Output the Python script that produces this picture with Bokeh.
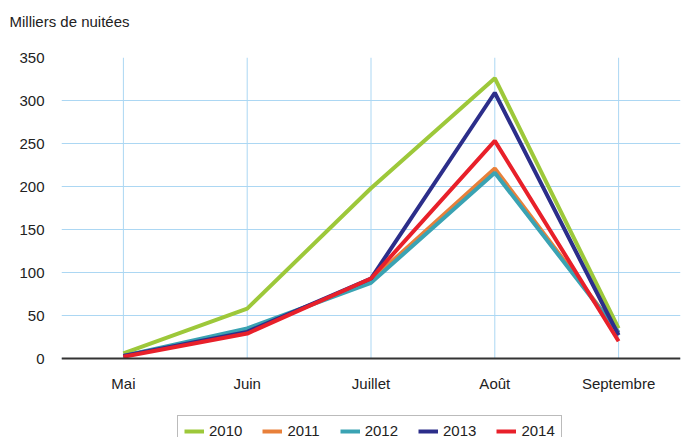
from bokeh.plotting import figure
from bokeh.models import FactorRange, Range1d, FixedTicker, Legend, LegendItem, Span
from bokeh.core.properties import value
from bokeh.embed import file_html
from bokeh.resources import INLINE

months = ["Mai", "Juin", "Juillet", "Août", "Septembre"]
y2010 = [6, 58, 198, 326, 35]
y2011 = [3, 32, 91, 221, 30]
y2012 = [3, 35, 88, 216, 30]
y2013 = [3, 31, 93, 309, 27]
y2014 = [2, 29, 93, 253, 20]
years = ["2010", "2011", "2012", "2013", "2014"]
colors = ["#9dc83a", "#e8803a", "#3aa3b3", "#2c2e8a", "#e8202a"]
series = [y2010, y2011, y2012, y2013, y2014]
yticks = [0, 50, 100, 150, 200, 250, 300, 350]

FONT = "Liberation Sans"
GRID = "#acd7f3"

# layout (pixels)
W, H = 684, 437
TOP, LEFT, RIGHT = 57, 61, 4
PLOT_PX = 301                      # pixels from 0 to 350
upp = yticks[-1] / PLOT_PX         # data units per pixel
y_start = yticks[-1] - (H - TOP) * upp

p = figure(width=W, height=H,
           x_range=FactorRange(*months, range_padding=0),
           y_range=Range1d(y_start, yticks[-1]),
           x_axis_location=None,
           output_backend="svg", toolbar_location=None,
           min_border_left=LEFT, min_border_right=RIGHT,
           min_border_top=TOP, min_border_bottom=0)
p.outline_line_color = None
p.xgrid.visible = False

# vertical grid lines between 0 and 350
p.segment(x0=months, y0=[yticks[0]] * len(months), x1=months,
          y1=[yticks[-1]] * len(months), line_color=GRID, line_width=1)

items = []
for yr, col, vals in zip(years, colors, series):
    r = p.line(months, vals, line_color=col, line_width=4)
    items.append(LegendItem(label=yr, renderers=[r]))

# x axis line and month labels
p.add_layout(Span(location=0, dimension="width", line_color="#333333", line_width=2))
p.text(x=months, y=[-25 * upp] * len(months), text=months,
       text_font=value(FONT), text_font_size=value("15px"), text_color="#222222",
       text_align="center", text_baseline="middle")

p.title.text = "Milliers de nuitées\n "
p.title.text_font = FONT
p.title.text_font_size = "15px"
p.title.text_font_style = "normal"
p.title.text_color = "#222222"
p.title.align = "left"
p.title.vertical_align = "top"
p.title.offset = -52
p.title.standoff = 17

p.ygrid.grid_line_color = GRID
p.ygrid.grid_line_width = 1

p.yaxis.ticker = FixedTicker(ticks=yticks)
p.yaxis.axis_line_color = None
p.yaxis.major_tick_line_color = None
p.yaxis.minor_tick_line_color = None
p.yaxis.major_label_standoff = 11
p.yaxis.major_label_text_font = FONT
p.yaxis.major_label_text_font_size = "15px"
p.yaxis.major_label_text_color = "#222222"

legend = Legend(items=items, orientation="horizontal", location=(116, -9),
                label_text_font=FONT, label_text_font_size="15px",
                label_text_color="#222222",
                glyph_width=20, glyph_height=14, label_standoff=5, spacing=20,
                border_line_color="#777777", border_line_width=1,
                padding=6, margin=0)
p.add_layout(legend, "center")

open("out.html", "w").write(file_html(p, INLINE))
